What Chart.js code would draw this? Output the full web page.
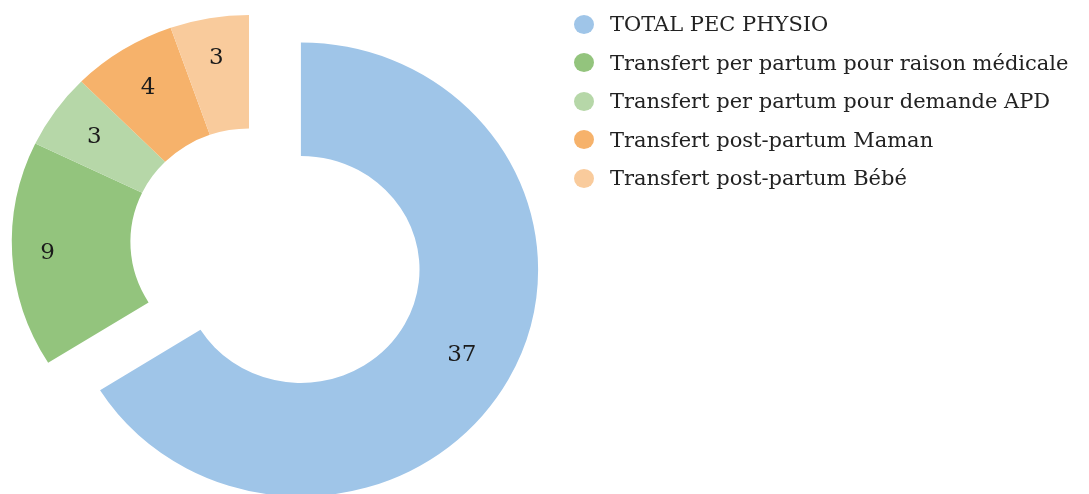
<!DOCTYPE html>
<html>
<head>
<meta charset="utf-8">
<script src="https://cdn.jsdelivr.net/npm/chart.js@4.4.1/dist/chart.umd.min.js"></script>
<style>
  html, body { margin: 0; padding: 0; background: #fff; }
  #wrap { position: relative; width: 1089px; height: 494px; overflow: hidden; }
  #chart { position: absolute; left: 0; top: 0; }
  #legend {
    position: absolute; left: 574px; top: 5px; margin: 0; padding: 0; list-style: none;
    font-family: 'DejaVu Serif', serif; font-size: 21px; color: #222;
  }
  #legend li { height: 38.5px; display: flex; align-items: center; white-space: nowrap; }
  #legend .dot { width: 20px; height: 19px; border-radius: 50%; margin-right: 16px; flex: none; }
</style>
</head>
<body>
<div id="wrap">
  <canvas id="chart" width="1089" height="494"></canvas>
  <ul id="legend"></ul>
</div>
<script>
const labels = [
  'TOTAL PEC PHYSIO',
  'Transfert per partum pour raison médicale',
  'Transfert per partum pour demande APD',
  'Transfert post-partum Maman',
  'Transfert post-partum Bébé'
];
const values = [37, 9, 3, 4, 3];
const colors = ['#9fc5e8', '#93c47d', '#b6d7a8', '#f6b26b', '#f9cb9c'];
const explode = [0.25, 0, 0, 0, 0];
const labelDist = [0.775, 0.85, 0.8, 0.8, 0.82];  // value labels, fraction of radius

const CX = 249;    // pie centre on the canvas
const SX = 1.045;  // reference pie is a little wider than tall

// pulls slices out, stretches the pie a bit and writes the values
const pieLook = {
  id: 'pieLook',
  afterDatasetsUpdate(chart) {
    chart.getDatasetMeta(0).data.forEach((arc, i) => {
      const mid = (arc.startAngle + arc.endAngle) / 2;
      const d = explode[i] * arc.outerRadius;
      arc.x += Math.cos(mid) * d;
      arc.y += Math.sin(mid) * d;
    });
  },
  beforeDatasetsDraw(chart) {
    const ctx = chart.ctx;
    ctx.save();
    ctx.translate(CX, 0);
    ctx.scale(SX, 1);
    ctx.translate(-CX, 0);
  },
  afterDatasetsDraw(chart) {
    const ctx = chart.ctx;
    ctx.restore();
    ctx.save();
    ctx.font = '23px "DejaVu Serif"';
    ctx.fillStyle = '#1b1b1b';
    ctx.textAlign = 'center';
    ctx.textBaseline = 'middle';
    chart.getDatasetMeta(0).data.forEach((arc, i) => {
      const mid = (arc.startAngle + arc.endAngle) / 2;
      const r = labelDist[i] * arc.outerRadius;
      const x = arc.x + Math.cos(mid) * r;
      const y = arc.y + Math.sin(mid) * r;
      ctx.fillText(String(values[i]), CX + (x - CX) * SX, y);
    });
    ctx.restore();
  }
};

new Chart(document.getElementById('chart'), {
  type: 'doughnut',
  data: {
    labels: labels,
    datasets: [{
      data: values,
      backgroundColor: colors,
      borderWidth: 0,
      clip: false
    }]
  },
  options: {
    responsive: false,
    animation: false,
    radius: 227,
    cutout: '50%',
    layout: { padding: { left: 0, right: 591, top: 0, bottom: 10 } },
    plugins: {
      legend: { display: false },
      tooltip: { enabled: false }
    }
  },
  plugins: [pieLook]
});

const legend = document.getElementById('legend');
labels.forEach((name, i) => {
  const li = document.createElement('li');
  const dot = document.createElement('span');
  dot.className = 'dot';
  dot.style.background = colors[i];
  li.appendChild(dot);
  li.appendChild(document.createTextNode(name));
  legend.appendChild(li);
});
</script>
</body>
</html>
